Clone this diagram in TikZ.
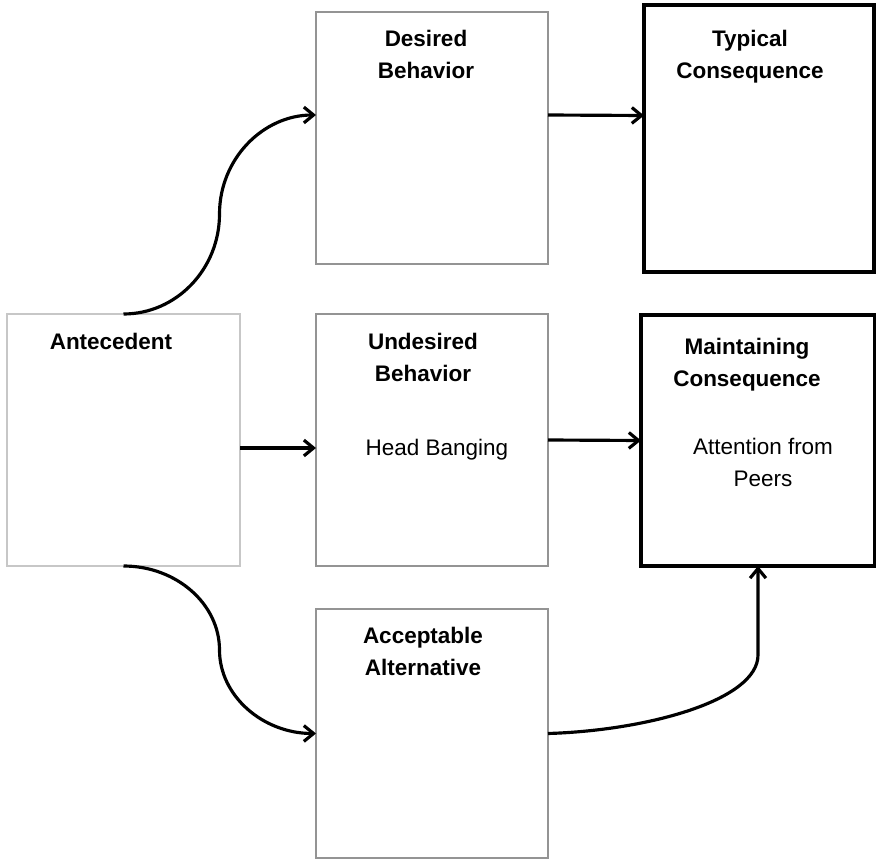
\documentclass[tikz,border=0pt]{standalone}
\usepackage{fontspec}
\setmainfont{Liberation Sans}
\usetikzlibrary{arrows.meta,positioning}
\usepackage{xcolor}

\begin{document}
\begin{tikzpicture}[x=0.02cm,y=-0.02cm,>={Straight Barb[length=5.5pt,width=9pt]},
	box/.style={draw,inner sep=0,outer sep=0},
	title/.style={font=\bfseries\fontsize{12.8}{18.2}\selectfont,align=center,anchor=north,inner sep=0},
	body/.style={font=\fontsize{12.8}{18.2}\selectfont,align=center,anchor=north,inner sep=0},
	link/.style={->,line width=1.8pt}]
	\useasboundingbox (0,0) rectangle (876,861);
	\foreach \n/\x/\y/\w/\h/\c/\lw in {
			ant/123.5/440/233/252/black!22/1.2pt,
			des/432/138/232/252/black!42/1.2pt,
			und/432/440/232/252/black!42/1.2pt,
			acc/432/733.5/232/249/black!42/1.2pt,
			typ/759/138.5/230/267/black/1.8pt,
			mai/758/440.5/234/251/black/1.8pt}
		{
		\node[box,draw=\c,line width=\lw,minimum width=\w*0.02cm,minimum height=\h*0.02cm] (\n) at (\x,\y) {};
	};
	\node[title] (antT) at (111,333) {Antecedent};
	\node[title] (desT) at (426,30) {Desired\\Behavior};
	\node[title] (typT) at (750,30) {Typical\\Consequence};
	\node[title] (undT) at (423,333) {Undesired\\Behavior};
	\node[title] (maiT) at (747,338) {Maintaining\\Consequence};
	\node[title] (accT) at (423,627) {Acceptable\\Alternative};
	\node[body] (undB) at (437,439) {Head Banging};
	\node[body] (maiB) at (763,438) {Attention from\\Peers};

	\draw[link] (ant.north) .. controls +(53,0) and +(0,55) .. ++(96,-100)
		.. controls +(0,-55) and +(-53,0) .. ([yshift=0.46cm]des.west);
	\draw[link] (ant.south) .. controls +(53,0) and +(0,-46) .. ++(96,84)
		.. controls +(0,46) and +(-53,0) .. (acc.west);
	\draw[link] ([yshift=-0.16cm]ant.east) -- ([yshift=-0.16cm]und.west);
	\draw[link] ([yshift=0.46cm]des.east) -- ([yshift=0.46cm]typ.west);
	\draw[link] (und.east) -- (mai.west);
	\draw[link] (acc.east) .. controls +(100,-3) and +(0,45) .. (mai.south |- 0,655) -- (mai.south);
\end{tikzpicture}
\end{document}
